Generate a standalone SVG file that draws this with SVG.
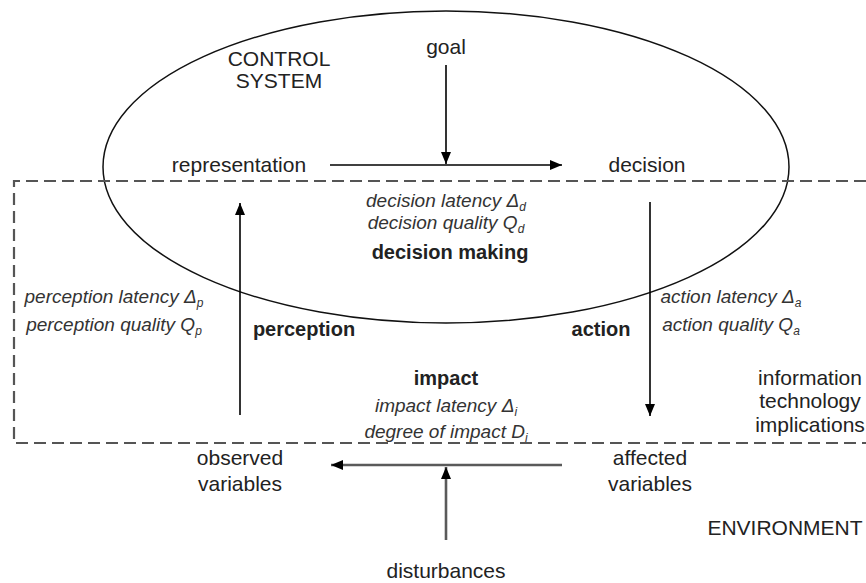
<svg xmlns="http://www.w3.org/2000/svg" width="866" height="583" viewBox="0 0 866 583">
<style>
text{font-family:"Liberation Sans",Arial,sans-serif;fill:#222;}
.r{font-size:21px;text-anchor:middle;}
.ic{font-size:19px;font-style:italic;fill:#333;text-anchor:middle;}
.b{font-size:20px;font-weight:bold;text-anchor:middle;}
.sub{font-size:12px;}
.ln{stroke:#000;stroke-width:1.6;fill:none;}
.gl{stroke:#5a5a5a;stroke-width:2.6;fill:none;}
</style>
<defs>
<marker id="ah" markerWidth="12" markerHeight="10" refX="12" refY="5" orient="auto" markerUnits="userSpaceOnUse"><path d="M0,0 L12,5 L0,10 Z" fill="#000"/></marker>
</defs>
<rect width="866" height="583" fill="#fff"/>
<g id="control-system">
<ellipse cx="446" cy="167" rx="343" ry="156" fill="none" stroke="#111" stroke-width="1.5"/>
<text class="r" x="279" y="66">CONTROL</text>
<text class="r" x="279" y="88">SYSTEM</text>
</g>
<g id="it-boundary">
<path d="M866,181 H14 V443 H866" fill="none" stroke="#555" stroke-width="2.2" stroke-dasharray="12 6"/>
<text class="r" x="810" y="385">information</text>
<text class="r" x="810" y="408">technology</text>
<text class="r" x="810" y="432">implications</text>
</g>
<g id="connectors">
<line class="ln" x1="446" y1="65" x2="446" y2="164" marker-end="url(#ah)"/>
<line class="ln" x1="330" y1="165" x2="562" y2="165" marker-end="url(#ah)"/>
<line class="ln" x1="240" y1="415" x2="240" y2="203" marker-end="url(#ah)"/>
<line class="ln" x1="650" y1="202" x2="650" y2="416" marker-end="url(#ah)"/>
<line class="gl" x1="562" y1="465" x2="331" y2="465" marker-end="url(#ah)"/>
<line class="gl" x1="446" y1="540" x2="446" y2="467" marker-end="url(#ah)"/>
</g>
<g id="goal"><text class="r" x="446" y="54">goal</text></g>
<g id="representation"><text class="r" x="239" y="172">representation</text></g>
<g id="decision"><text class="r" x="647" y="172">decision</text></g>
<g id="decision-making">
<text class="ic" x="446" y="207">decision latency Δ<tspan class="sub" dy="4">d</tspan></text>
<text class="ic" x="446" y="229">decision quality Q<tspan class="sub" dy="4">d</tspan></text>
<text class="b" x="450" y="259">decision making</text>
</g>
<g id="perception">
<text class="ic" x="114" y="303">perception latency Δ<tspan class="sub" dy="4">p</tspan></text>
<text class="ic" x="114" y="331">perception quality Q<tspan class="sub" dy="4">p</tspan></text>
<text class="b" x="304" y="336">perception</text>
</g>
<g id="action">
<text class="b" x="601" y="336">action</text>
<text class="ic" x="731" y="303">action latency Δ<tspan class="sub" dy="4">a</tspan></text>
<text class="ic" x="731" y="331">action quality Q<tspan class="sub" dy="4">a</tspan></text>
</g>
<g id="impact">
<text class="b" x="446" y="385">impact</text>
<text class="ic" x="446" y="412">impact latency Δ<tspan class="sub" dy="4">i</tspan></text>
<text class="ic" x="446" y="438">degree of impact D<tspan class="sub" dy="4">i</tspan></text>
</g>
<g id="observed-variables">
<text class="r" x="240" y="465">observed</text>
<text class="r" x="240" y="491">variables</text>
</g>
<g id="affected-variables">
<text class="r" x="650" y="465">affected</text>
<text class="r" x="650" y="491">variables</text>
</g>
<g id="disturbances"><text class="r" x="446" y="578">disturbances</text></g>
<g id="environment"><text class="r" x="785" y="535">ENVIRONMENT</text></g>
</svg>
